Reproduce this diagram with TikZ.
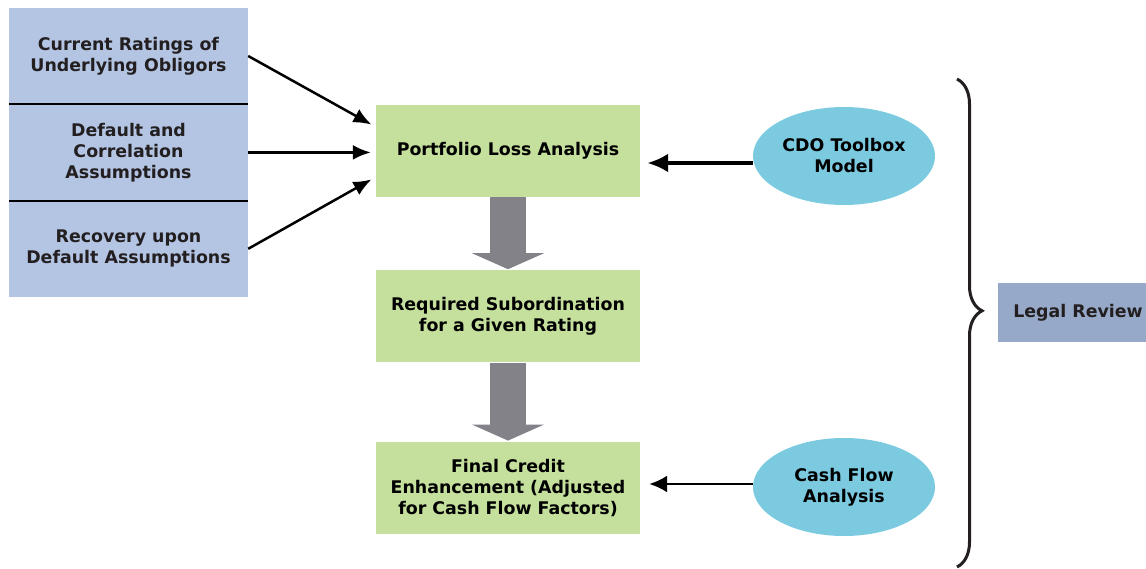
\documentclass[tikz,border=0pt]{standalone}
\usepackage{fontspec}
\setmainfont{DejaVu Sans}
\usetikzlibrary{positioning,arrows.meta,shapes.geometric,decorations.pathreplacing}
\definecolor{inputblue}{HTML}{B4C5E4}
\definecolor{stagegreen}{HTML}{C5DF9D}
\definecolor{modelcyan}{HTML}{7BCAE0}
\definecolor{legalblue}{HTML}{97A9C8}
\definecolor{arrowgray}{HTML}{838288}
\definecolor{darktext}{HTML}{231F20}

\begin{document}
\begin{tikzpicture}[->,>={Latex[length=18pt,width=15pt]},x=1pt,y=-1pt,node distance=0pt,
  every node/.style={font=\bfseries\fontsize{17.4}{21}\selectfont,align=center,inner sep=0pt},
  input/.style={fill=inputblue,text=darktext,minimum width=239pt,minimum height=96pt},
  stage/.style={fill=stagegreen,minimum width=264pt,minimum height=92pt},
  model/.style={ellipse,fill=modelcyan,minimum width=182pt,minimum height=98pt}]
  \useasboundingbox (0,0) rectangle (1146,569);

  % inputs on the left
  \node[input]                 (ratings) at (128.5,56) {Current Ratings of\\Underlying Obligors};
  \node[input,below=of ratings] (corr)   {Default and\\Correlation\\Assumptions};
  \node[input,below=of corr]   (recov)   {Recovery upon\\Default Assumptions};
  \draw[-,line width=2pt] (ratings.south west) -- (ratings.south east);
  \draw[-,line width=2pt] (corr.south west) -- (corr.south east);

  % main steps
  \node[stage]                    (loss)   at (508,151) {Portfolio Loss Analysis};
  \node[stage,below=73pt of loss]  (subord) {Required Subordination\\for a Given Rating};
  \node[stage,below=79pt of subord] (final) {Final Credit\\Enhancement (Adjusted\\for Cash Flow Factors)};

  \node[model] (toolbox)  at (844,156) {CDO Toolbox\\Model};
  \node[model] (cashflow) at (844,487) {Cash Flow\\Analysis};

  \node[fill=legalblue,text=darktext,minimum width=160pt,minimum height=59pt] (legal) at (1078,312.5) {Legal Review};

  % big gray arrows
  \foreach \a/\b in {loss/subord,subord/final}{
    \fill[arrowgray] ([xshift=-18pt]\a.south) rectangle ([xshift=18pt,yshift=17pt]\b.north);
    \fill[arrowgray] ([xshift=-36pt,yshift=17pt]\b.north) -- ([xshift=36pt,yshift=17pt]\b.north)
      -- ([yshift=1pt]\b.north) -- cycle;
  }

  \path[line width=2.5pt,shorten >=5pt]
    (ratings.east) edge ([yshift=24pt]loss.west)
    (corr.east)    edge (corr.east -| loss.west)
    (recov.east)   edge ([yshift=-26pt]loss.west);
  \draw[line width=4pt,shorten >=7pt,>={Latex[length=21pt,width=19pt]}]
    ([yshift=-7pt]toolbox.west) -- ([yshift=-7pt]toolbox.west -| loss.east);
  \draw[line width=2.5pt,shorten >=9pt,>={Latex[length=18pt,width=17pt]}]
    ([yshift=3pt]cashflow.west) -- ([yshift=3pt]cashflow.west -| final.east);

  % brace
  \coordinate (bracetop) at (957,79);
  \coordinate (bracebot) at (957,567);
  \draw[-,line width=3pt,darktext,decorate,decoration={brace,amplitude=25pt,aspect=0.475}]
    (bracetop) -- (bracebot);
\end{tikzpicture}
\end{document}
